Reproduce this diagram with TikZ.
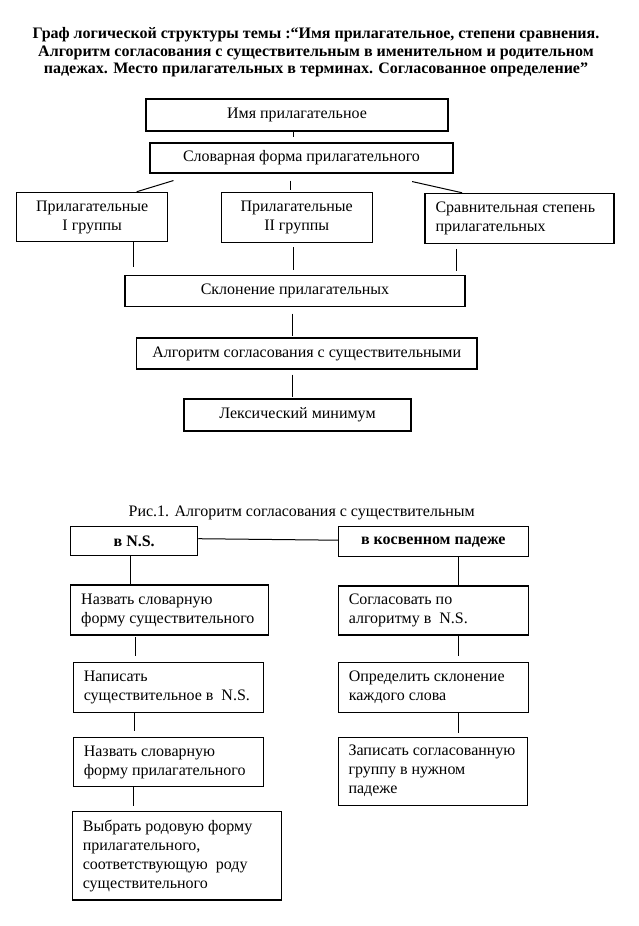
\documentclass[tikz,border=0pt]{standalone}
\usepackage{fontspec}
\setmainfont{Liberation Serif}
\usetikzlibrary{calc}
\begin{document}
\begin{tikzpicture}[x=1pt,y=-1pt,
  box/.style={draw, line width=1.1pt, inner xsep=10.5pt, inner ysep=0pt, font=\fontsize{16}{19}\selectfont},
  cbox/.style={box, align=flush center},
  lbox/.style={box, align=flush left},
  conn/.style={line width=1pt},
]
\useasboundingbox (0,0) rectangle (639,926);
\fill[white] (0,0) rectangle (639,926);

\node[font=\bfseries\fontsize{16}{17.5}\selectfont, align=flush center] (title) at (316,52.5)
  {Граф логической структуры темы :“Имя прилагательное, степени сравнения.\\
   Алгоритм согласования с существительным в именительном и родительном\\
   падежах. Место прилагательных в терминах. Согласованное определение”};

% upper graph
\node[cbox, minimum width=302pt, minimum height=32pt] (imya) at (297,115) {Имя прилагательное};
\node[cbox, minimum width=303pt, minimum height=30pt] (slov) at (301.5,158) {Словарная форма прилагательного};
\node[cbox, minimum width=151pt, minimum height=49.4pt] (g1) at (92.2,217) {Прилагательные\\I группы};
\node[cbox, minimum width=151.3pt, minimum height=50pt] (g2) at (296.7,217.3) {Прилагательные\\II группы};
\node[lbox, text width=168pt, minimum height=50pt] (g3) at (519.5,218.3) {Сравнительная степень\\прилагательных};
\node[cbox, minimum width=340pt, minimum height=31pt] (skl) at (295,291) {Склонение прилагательных};
\node[cbox, minimum width=340.5pt, minimum height=31pt] (alg) at (306.7,353.5) {Алгоритм согласования с существительными};
\node[cbox, minimum width=227pt, minimum height=32pt] (lex) at (297.5,415) {Лексический минимум};

\draw[conn, shorten >=5pt] (imya.south -| 293,0) -- (slov.north -| 293,0);
\draw[conn] ($(slov.south west)+(24,7)$) -- (g1.north -| 136.7,0);
\draw[conn, shorten <=7pt, shorten >=1.5pt] (slov.south -| 290,0) -- (g2.north -| 290,0);
\draw[conn] ($(slov.south west)+(262.7,8)$) -- (g3.north -| 462,0);
\draw[conn, shorten >=8pt] (g1.south -| 133.3,0) -- (skl.north -| 133.3,0);
\draw[conn, shorten <=4.5pt, shorten >=5pt] (g2.south -| 293.3,0) -- (skl.north -| 293.3,0);
\draw[conn, shorten <=5pt, shorten >=4pt] (g3.south -| 456.7,0) -- (skl.north -| 456.7,0);
\draw[conn, shorten <=6.5pt, shorten >=1pt] (skl.south -| 292.6,0) -- (alg.north -| 292.6,0);
\draw[conn, shorten <=5pt, shorten >=1pt] (alg.south -| 292,0) -- (lex.north -| 292,0);

% lower graph
\node[font=\fontsize{16}{19}\selectfont] (cap) at (301.7,513.3) {Рис.1. Алгоритм согласования с существительным};
\node[cbox, font=\bfseries\fontsize{16}{19}\selectfont, minimum width=127pt, minimum height=29pt] (ns) at (134.2,541.2) {в N.S.};
\node[cbox, font=\bfseries\fontsize{16}{19}\selectfont, minimum width=190pt, minimum height=30pt] (kos) at (433.3,541.7) {в косвенном падеже};

\node[lbox, text width=176.6pt, minimum height=50pt] (n1) at (169.5,610) {Назвать словарную\\форму существительного};
\node[lbox, text width=169pt, minimum height=49.6pt] (n2) at (168.3,687.5) {Написать\\существительное в\ \ N.S.};
\node[lbox, text width=169pt, minimum height=49.4pt] (n3) at (168.3,762) {Назвать словарную\\форму прилагательного};
\node[lbox, text width=187.7pt, minimum height=88.3pt] (n4) at (176.7,855.8) {Выбрать родовую форму\\прилагательного,\\соответствующую\ \ роду\\существительного};

\node[lbox, text width=169pt, minimum height=49pt] (k1) at (433.3,610.5) {Согласовать по\\алгоритму в\ \ N.S.};
\node[lbox, text width=169pt, minimum height=49.6pt] (k2) at (433.3,687.5) {Определить склонение\\каждого слова};
\node[lbox, text width=168.3pt, minimum height=67.7pt] (k3) at (432.7,771.2) {Записать согласованную\\группу в нужном\\падеже};

\draw[conn] ([yshift=2.5pt]ns.east) -- ([yshift=1.5pt]kos.west);
\draw[conn] (ns.south -| 130,0) -- (n1.north -| 130,0);
\draw[conn, shorten <=1.5pt, shorten >=6.5pt] (n1.south -| 135,0) -- (n2.north -| 135,0);
\draw[conn, shorten >=5.5pt] (n2.south -| 134,0) -- (n3.north -| 134,0);
\draw[conn, shorten >=5pt] (n3.south -| 133.3,0) -- (n4.north -| 133.3,0);
\draw[conn] (kos.south -| 458.3,0) -- (k1.north -| 458.3,0);
\draw[conn, shorten >=6pt] (k1.south -| 458.3,0) -- (k2.north -| 458.3,0);
\draw[conn, shorten >=4pt] (k2.south -| 458.3,0) -- (k3.north -| 458.3,0);
\end{tikzpicture}
\end{document}
